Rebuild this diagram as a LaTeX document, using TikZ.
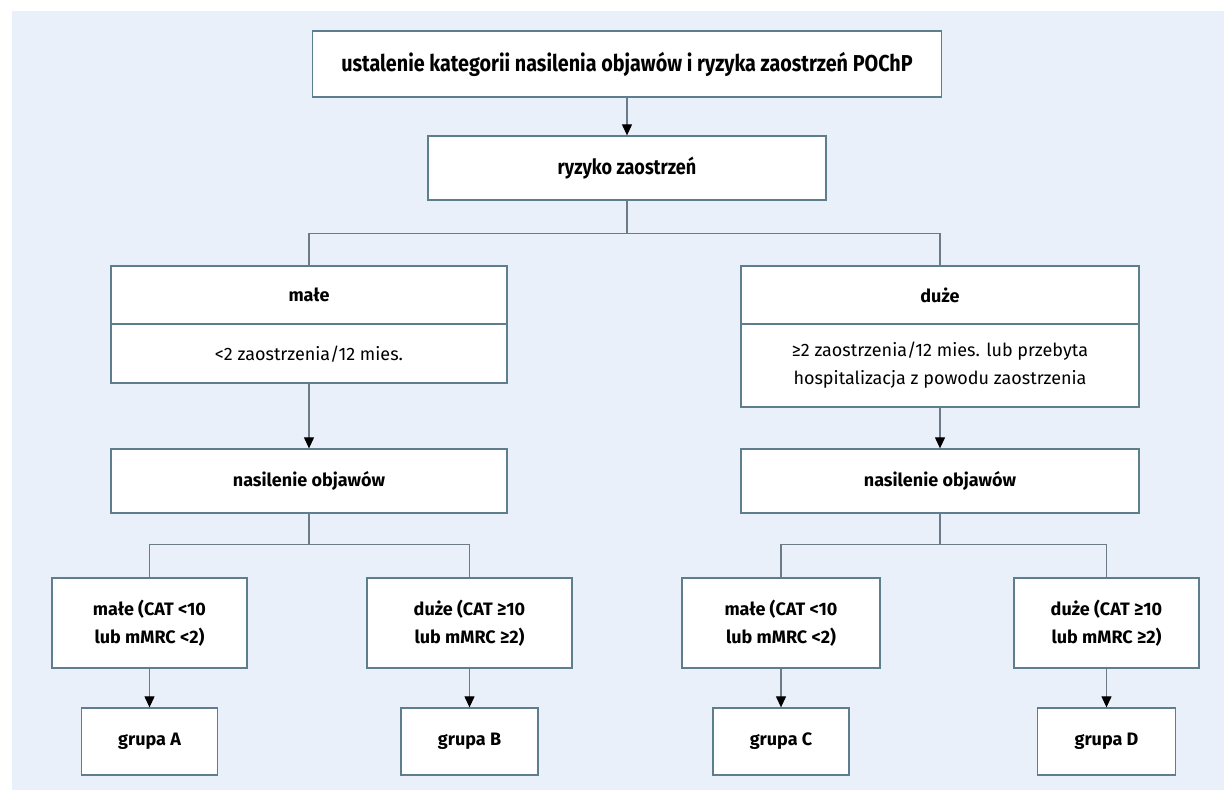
\documentclass[tikz,border=0pt]{standalone}
\usepackage{fontspec}
\setmainfont{Fira Sans}
\newfontfamily\condfont{Fira Sans}[FakeStretch=0.86]
\usetikzlibrary{arrows.meta}
\definecolor{panelcol}{HTML}{E9F0FA}
\definecolor{framecol}{HTML}{5E7E8E}
\definecolor{linecol}{HTML}{6B7B88}
\tikzset{
  box/.style={draw=framecol, line width=1.3pt, fill=white, inner sep=0pt, align=center},
  boxtext/.style={inner sep=0pt, align=center, font=\bfseries\fontsize{18}{28}\selectfont},
  subtext/.style={inner sep=0pt, align=center, font=\fontsize{18}{28}\selectfont},
  condtext/.style={inner sep=0pt, align=center, font=\condfont\bfseries\fontsize{21}{24}\selectfont},
  bigcondtext/.style={inner sep=0pt, align=center, font=\condfont\bfseries\fontsize{23}{26}\selectfont},
  connector/.style={draw=linecol, line width=1.1pt},
  arr/.style={connector, -{Triangle[width=10pt,length=11pt,color=black]}},
  divider/.style={draw=framecol, line width=1.1pt},
}
\begin{document}
\begin{tikzpicture}[x=1pt,y=-1pt]
\useasboundingbox (0,0) rectangle (1224,796);
\fill[panelcol] (12,11) rectangle (1224,790);

% top level
\node[box, minimum width=629pt, minimum height=66pt] (top) at (627,64) {};
\node[bigcondtext] (toptext) at (top.center) {ustalenie kategorii nasilenia objawów i ryzyka zaostrzeń POChP};
\node[box, minimum width=398pt, minimum height=64pt] (risk) at (627,168) {};
\node[condtext] (risktext) at (risk.center) {ryzyko zaostrzeń};

% risk categories
\node[box, minimum width=396pt, minimum height=117pt] (male) at (309,324.5) {};
\draw[divider] (male.west |- 0,324) -- (male.east |- 0,324);
\node[boxtext] (maleh) at (309,295) {małe};
\node[subtext] (males) at (309,354) {<2 zaostrzenia/12 mies.};

\node[box, minimum width=398pt, minimum height=141pt] (duze) at (940,336.5) {};
\draw[divider] (duze.west |- 0,324) -- (duze.east |- 0,324);
\node[boxtext] (duzeh) at (940,295) {duże};
\node[subtext] (duzes) at (940,365.5) {≥2 zaostrzenia/12 mies. lub przebyta\\hospitalizacja z powodu zaostrzenia};

% symptom boxes
\node[box, boxtext, minimum width=396pt, minimum height=64pt] (nasL) at (309,481) {nasilenie objawów};
\node[box, boxtext, minimum width=398pt, minimum height=64pt] (nasR) at (940,481) {nasilenie objawów};

% symptom categories
\node[box, boxtext, minimum width=195pt, minimum height=90pt] (A1) at (149.5,623) {małe (CAT <10\\lub mMRC <2)};
\node[box, boxtext, minimum width=205pt, minimum height=90pt] (B1) at (469.5,623) {duże (CAT ≥10\\lub mMRC ≥2)};
\node[box, boxtext, minimum width=198pt, minimum height=90pt] (C1) at (781,623) {małe (CAT <10\\lub mMRC <2)};
\node[box, boxtext, minimum width=185pt, minimum height=90pt] (D1) at (1106.5,623) {duże (CAT ≥10\\lub mMRC ≥2)};

% groups
\node[box, boxtext, minimum width=136pt, minimum height=67pt] (gA) at (149.5,741.5) {grupa A};
\node[box, boxtext, minimum width=137pt, minimum height=67pt] (gB) at (469.5,741.5) {grupa B};
\node[box, boxtext, minimum width=136pt, minimum height=67pt] (gC) at (781,741.5) {grupa C};
\node[box, boxtext, minimum width=138pt, minimum height=67pt] (gD) at (1106.5,741.5) {grupa D};

% connectors
\draw[arr] (top.south) -- (risk.north);
\draw[connector] (risk.south) -- ++(0,33) coordinate (rj) -| (male.north);
\draw[connector] (rj) -| (duze.north);
\draw[arr] (male.south) -- (nasL.north);
\draw[arr] (duze.south) -- (nasR.north);
\draw[connector] (nasL.south) -- ++(0,31) coordinate (lj) -| (A1.north);
\draw[connector] (lj) -| (B1.north);
\draw[connector] (nasR.south) -- ++(0,31) coordinate (rj2) -| (C1.north);
\draw[connector] (rj2) -| (D1.north);
\draw[arr] (A1.south) -- (gA.north);
\draw[arr] (B1.south) -- (gB.north);
\draw[arr] (C1.south) -- (gC.north);
\draw[arr] (D1.south) -- (gD.north);
\end{tikzpicture}
\end{document}
